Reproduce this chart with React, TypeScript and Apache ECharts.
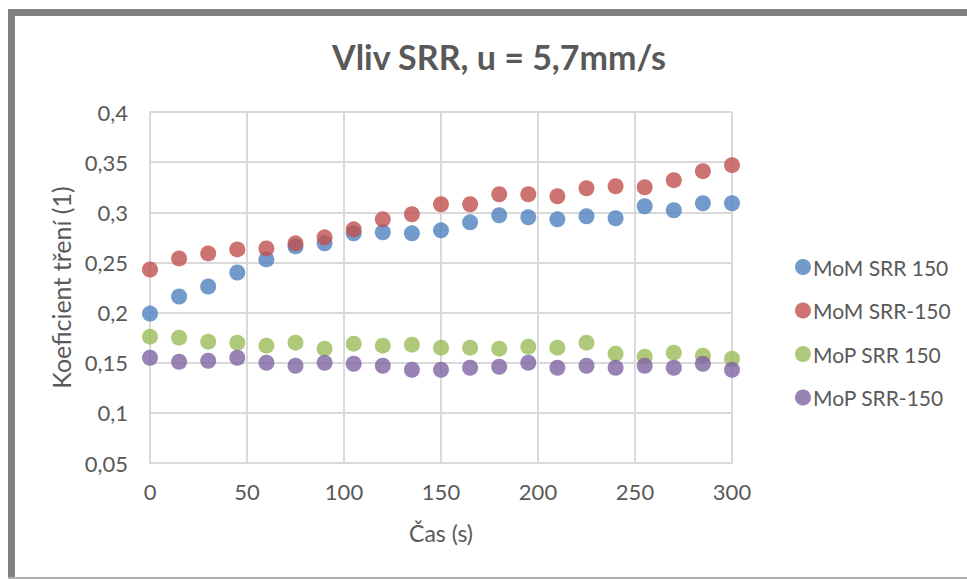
import React, { useEffect, useRef } from "react";
import * as echarts from "echarts";

const times = [0, 15, 30, 45, 60, 75, 90, 105, 120, 135, 150, 165, 180, 195, 210, 225, 240, 255, 270, 285, 300];
const momSrr150 = [0.199, 0.216, 0.226, 0.240, 0.253, 0.266, 0.269, 0.279, 0.280, 0.279, 0.282, 0.290, 0.297, 0.295, 0.293, 0.296, 0.294, 0.306, 0.302, 0.309, 0.309];
const momSrrNeg150 = [0.243, 0.254, 0.259, 0.263, 0.264, 0.269, 0.275, 0.283, 0.293, 0.298, 0.308, 0.308, 0.318, 0.318, 0.316, 0.324, 0.326, 0.325, 0.332, 0.341, 0.347];
const mopSrr150 = [0.176, 0.175, 0.171, 0.170, 0.167, 0.170, 0.164, 0.169, 0.167, 0.168, 0.165, 0.165, 0.164, 0.166, 0.165, 0.170, 0.159, 0.156, 0.160, 0.157, 0.154];
const mopSrrNeg150 = [0.155, 0.151, 0.152, 0.155, 0.150, 0.147, 0.150, 0.149, 0.147, 0.143, 0.143, 0.145, 0.146, 0.150, 0.145, 0.147, 0.145, 0.147, 0.145, 0.149, 0.143];

const seriesNames = ["MoM SRR 150", "MoM SRR-150", "MoP SRR 150", "MoP SRR-150"];
const seriesColors = ["#4f81bd", "#c0504d", "#9bbb59", "#8064a2"];
const seriesValues = [momSrr150, momSrrNeg150, mopSrr150, mopSrrNeg150];

const titleText = "Vliv SRR, u = 5,7mm/s";
const xName = "Čas (s)";
const yName = "Koeficient tření (1)";

const FONT = "Lato, 'Open Sans', sans-serif";

export default function App() {
  const ref = useRef<HTMLDivElement>(null);
  useEffect(() => {
    if (!ref.current) return;
    const chart = echarts.init(ref.current, undefined, { renderer: "svg" });
    chart.setOption({
      animation: false,
      backgroundColor: "#ffffff",
      textStyle: { fontFamily: FONT },
      title: {
        text: titleText,
        left: 494,
        top: 34,
        textAlign: "center",
        textStyle: { fontFamily: FONT, fontSize: 34, fontWeight: "bold", color: "#595959" },
      },
      grid: { left: 150, right: 235, top: 112, bottom: 116, containLabel: false },
      legend: {
        orient: "vertical",
        left: 790,
        top: 251,
        itemWidth: 16,
        itemHeight: 16,
        itemGap: 21.5,
        icon: "circle",
        data: seriesNames,
        textStyle: { fontFamily: FONT, fontSize: 21, lineHeight: 22, color: "#595959", padding: [0, 0, 0, -3] },
      },
      xAxis: {
        type: "value",
        min: 0,
        max: 300,
        interval: 50,
        name: xName,
        nameLocation: "middle",
        nameGap: 58,
        nameTextStyle: { fontFamily: FONT, fontSize: 23, color: "#595959" },
        axisLine: { show: true, lineStyle: { color: "#d9d9d9", width: 2 } },
        axisTick: { show: false },
        axisLabel: { fontFamily: FONT, fontSize: 22, color: "#595959", margin: 17 },
        splitLine: { show: true, lineStyle: { color: "#d9d9d9", width: 2 } },
      },
      yAxis: {
        type: "value",
        min: 0.05,
        max: 0.4,
        interval: 0.05,
        name: yName,
        nameLocation: "middle",
        nameGap: 77,
        nameTextStyle: { fontFamily: FONT, fontSize: 25, color: "#595959" },
        axisLine: { show: true, lineStyle: { color: "#d9d9d9", width: 2 } },
        axisTick: { show: false },
        axisLabel: {
          fontFamily: FONT,
          fontSize: 22,
          color: "#595959",
          margin: 22,
          formatter: (v: number) => String(Number(v.toFixed(2))).replace(".", ","),
        },
        splitLine: { show: true, lineStyle: { color: "#d9d9d9", width: 2 } },
      },
      graphic: [
        { type: "rect", shape: { x: 8, y: 9, width: 959, height: 7 }, style: { fill: "#808080" }, z: 100 },
        { type: "rect", shape: { x: 8, y: 9, width: 7, height: 570 }, style: { fill: "#808080" }, z: 100 },
        { type: "rect", shape: { x: 8, y: 577, width: 959, height: 2 }, style: { fill: "#b0b0b0" }, z: 100 },
      ],
      series: seriesNames.map((name, i) => ({
        name,
        type: "scatter",
        symbol: "circle",
        symbolSize: 16,
        itemStyle: { color: seriesColors[i] },
        data: times.map((t, j) => [t, seriesValues[i][j]]),
      })),
    });
    return () => chart.dispose();
  }, []);
  return <div ref={ref} style={{ width: 967, height: 579, position: "absolute", left: 0, top: 0 }} />;
}
